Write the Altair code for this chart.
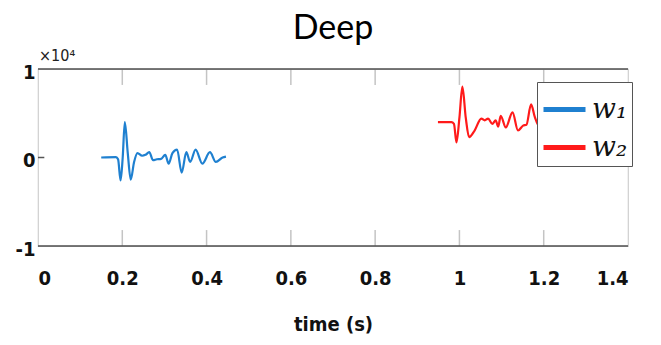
import altair as alt
import pandas as pd

# Series w1 (time in s, amplitude in units of 1e4)
w1_t = [0.150, 0.185, 0.190, 0.196, 0.201, 0.206, 0.213, 0.220, 0.228, 0.236,
        0.247, 0.255, 0.264, 0.273, 0.282, 0.292, 0.302, 0.310, 0.319, 0.330,
        0.341, 0.352, 0.361, 0.374, 0.390, 0.408, 0.422, 0.438, 0.446]
w1_v = [0.00, 0.005, -0.02, -0.26, 0.00, 0.40, 0.05, -0.25, -0.05, 0.05,
        0.02, 0.03, 0.06, -0.03, -0.02, -0.015, 0.03, -0.07, 0.05, 0.09,
        -0.17, 0.06, -0.05, 0.09, -0.07, 0.06, -0.05, 0.00, 0.01]

# Series w2
w2_t = [0.949, 0.981, 0.987, 0.993, 1.000, 1.007, 1.015, 1.023, 1.036, 1.052,
        1.060, 1.068, 1.078, 1.086, 1.092, 1.098, 1.110, 1.126, 1.139, 1.151,
        1.159, 1.170, 1.179, 1.190, 1.200, 1.210, 1.220, 1.235, 1.245]
w2_v = [0.40, 0.40, 0.38, 0.17, 0.45, 0.80, 0.45, 0.23, 0.305, 0.44,
        0.42, 0.44, 0.38, 0.42, 0.35, 0.47, 0.34, 0.51, 0.305, 0.36,
        0.37, 0.60, 0.455, 0.35, 0.45, 0.38, 0.42, 0.39, 0.41]

series_names = ["w₁", "w₂"]
series_colors = ["#1f80d0", "#ff1a1a"]

x_ticks = [0, 0.2, 0.4, 0.6, 0.8, 1, 1.2, 1.4]
inner_ticks = [0.2, 0.4, 0.6, 0.8, 1, 1.2]
y_ticks = [-1, 0, 1]

df = pd.concat([
    pd.DataFrame({"t": w1_t, "v": w1_v, "s": series_names[0]}),
    pd.DataFrame({"t": w2_t, "v": w2_v, "s": series_names[1]}),
])

X = alt.Scale(domain=[0, 1.4], nice=False, zero=False)
Y = alt.Scale(domain=[-1, 1], nice=False, zero=False)

lab_font = "DejaVu Sans Condensed, Liberation Sans, sans-serif"

lines = alt.Chart(df).mark_line(strokeWidth=2.2, interpolate="monotone").encode(
    x=alt.X("t:Q", scale=X, title="time (s)",
            axis=alt.Axis(values=x_ticks, domain=False, ticks=False, grid=False,
                          labelExpr="'' + datum.value",
                          labelFont=lab_font, labelFontSize=20, labelFontWeight="bold",
                          labelColor="#111", labelPadding=22,
                          titleFont=lab_font, titleFontSize=20, titleFontWeight="bold",
                          titleColor="#111", titlePadding=26)),
    y=alt.Y("v:Q", scale=Y, title=None,
            axis=alt.Axis(values=y_ticks, domain=False, ticks=False, grid=False,
                          labelExpr="'' + datum.value",
                          labelFont=lab_font, labelFontSize=20, labelFontWeight="bold",
                          labelColor="#111", labelPadding=3, labelBaseline="middle",
                          labelOffset=3)),
    color=alt.Color("s:N", scale=alt.Scale(domain=series_names, range=series_colors),
                    legend=alt.Legend(title=None, orient="none", legendX=499, legendY=13,
                                      symbolType="stroke", symbolSize=1764,
                                      symbolStrokeWidth=5, labelFont="DejaVu Serif",
                                      labelFontStyle="italic", labelFontSize=28,
                                      labelColor="#111", labelOffset=4,
                                      padding=4, strokeColor="#555", fillColor="white",
                                      rowPadding=0)),
)

frame_df = pd.DataFrame({"y": [-1, 1]})
frame = alt.Chart(frame_df).mark_rule(color="#505050", strokeWidth=1.6).encode(
    y=alt.Y("y:Q", scale=Y), x=alt.datum(0), x2=alt.datum(1.4))

tick_df = pd.DataFrame({"t": inner_ticks})
ticks_top = alt.Chart(tick_df).mark_rule(color="#c4c4c4", strokeWidth=1.5).encode(
    x=alt.X("t:Q", scale=X), y=alt.datum(1), y2=alt.datum(0.82))
ticks_bot = alt.Chart(tick_df).mark_rule(color="#c4c4c4", strokeWidth=1.5).encode(
    x=alt.X("t:Q", scale=X), y=alt.datum(-1), y2=alt.datum(-0.82))
ytick = alt.Chart(pd.DataFrame({"v": [0]})).mark_rule(color="#555", strokeWidth=1.5).encode(
    y=alt.Y("v:Q", scale=Y), x=alt.datum(0), x2=alt.datum(0.015))

exp_label = alt.Chart(pd.DataFrame({"txt": ["×10⁴"]})).mark_text(
    align="left", baseline="bottom", dx=1, dy=-5, font=lab_font, fontSize=16,
    color="#222").encode(x=alt.datum(0), y=alt.datum(1), text="txt:N")

chart = alt.layer(ticks_top, ticks_bot, ytick, lines, frame, exp_label).properties(
    width=590, height=177,
    title=alt.Title("Deep", font="Lato", fontSize=34, fontWeight="normal",
                    color="#000", anchor="middle", offset=2),
    autosize=alt.AutoSizeParams(type="none"),
    padding={"left": 38, "top": 69, "right": 33, "bottom": 99},
).configure_view(stroke="#cfcfcf", strokeWidth=1.2)

chart.save("out.html", embed_options={"renderer": "svg", "actions": False})
